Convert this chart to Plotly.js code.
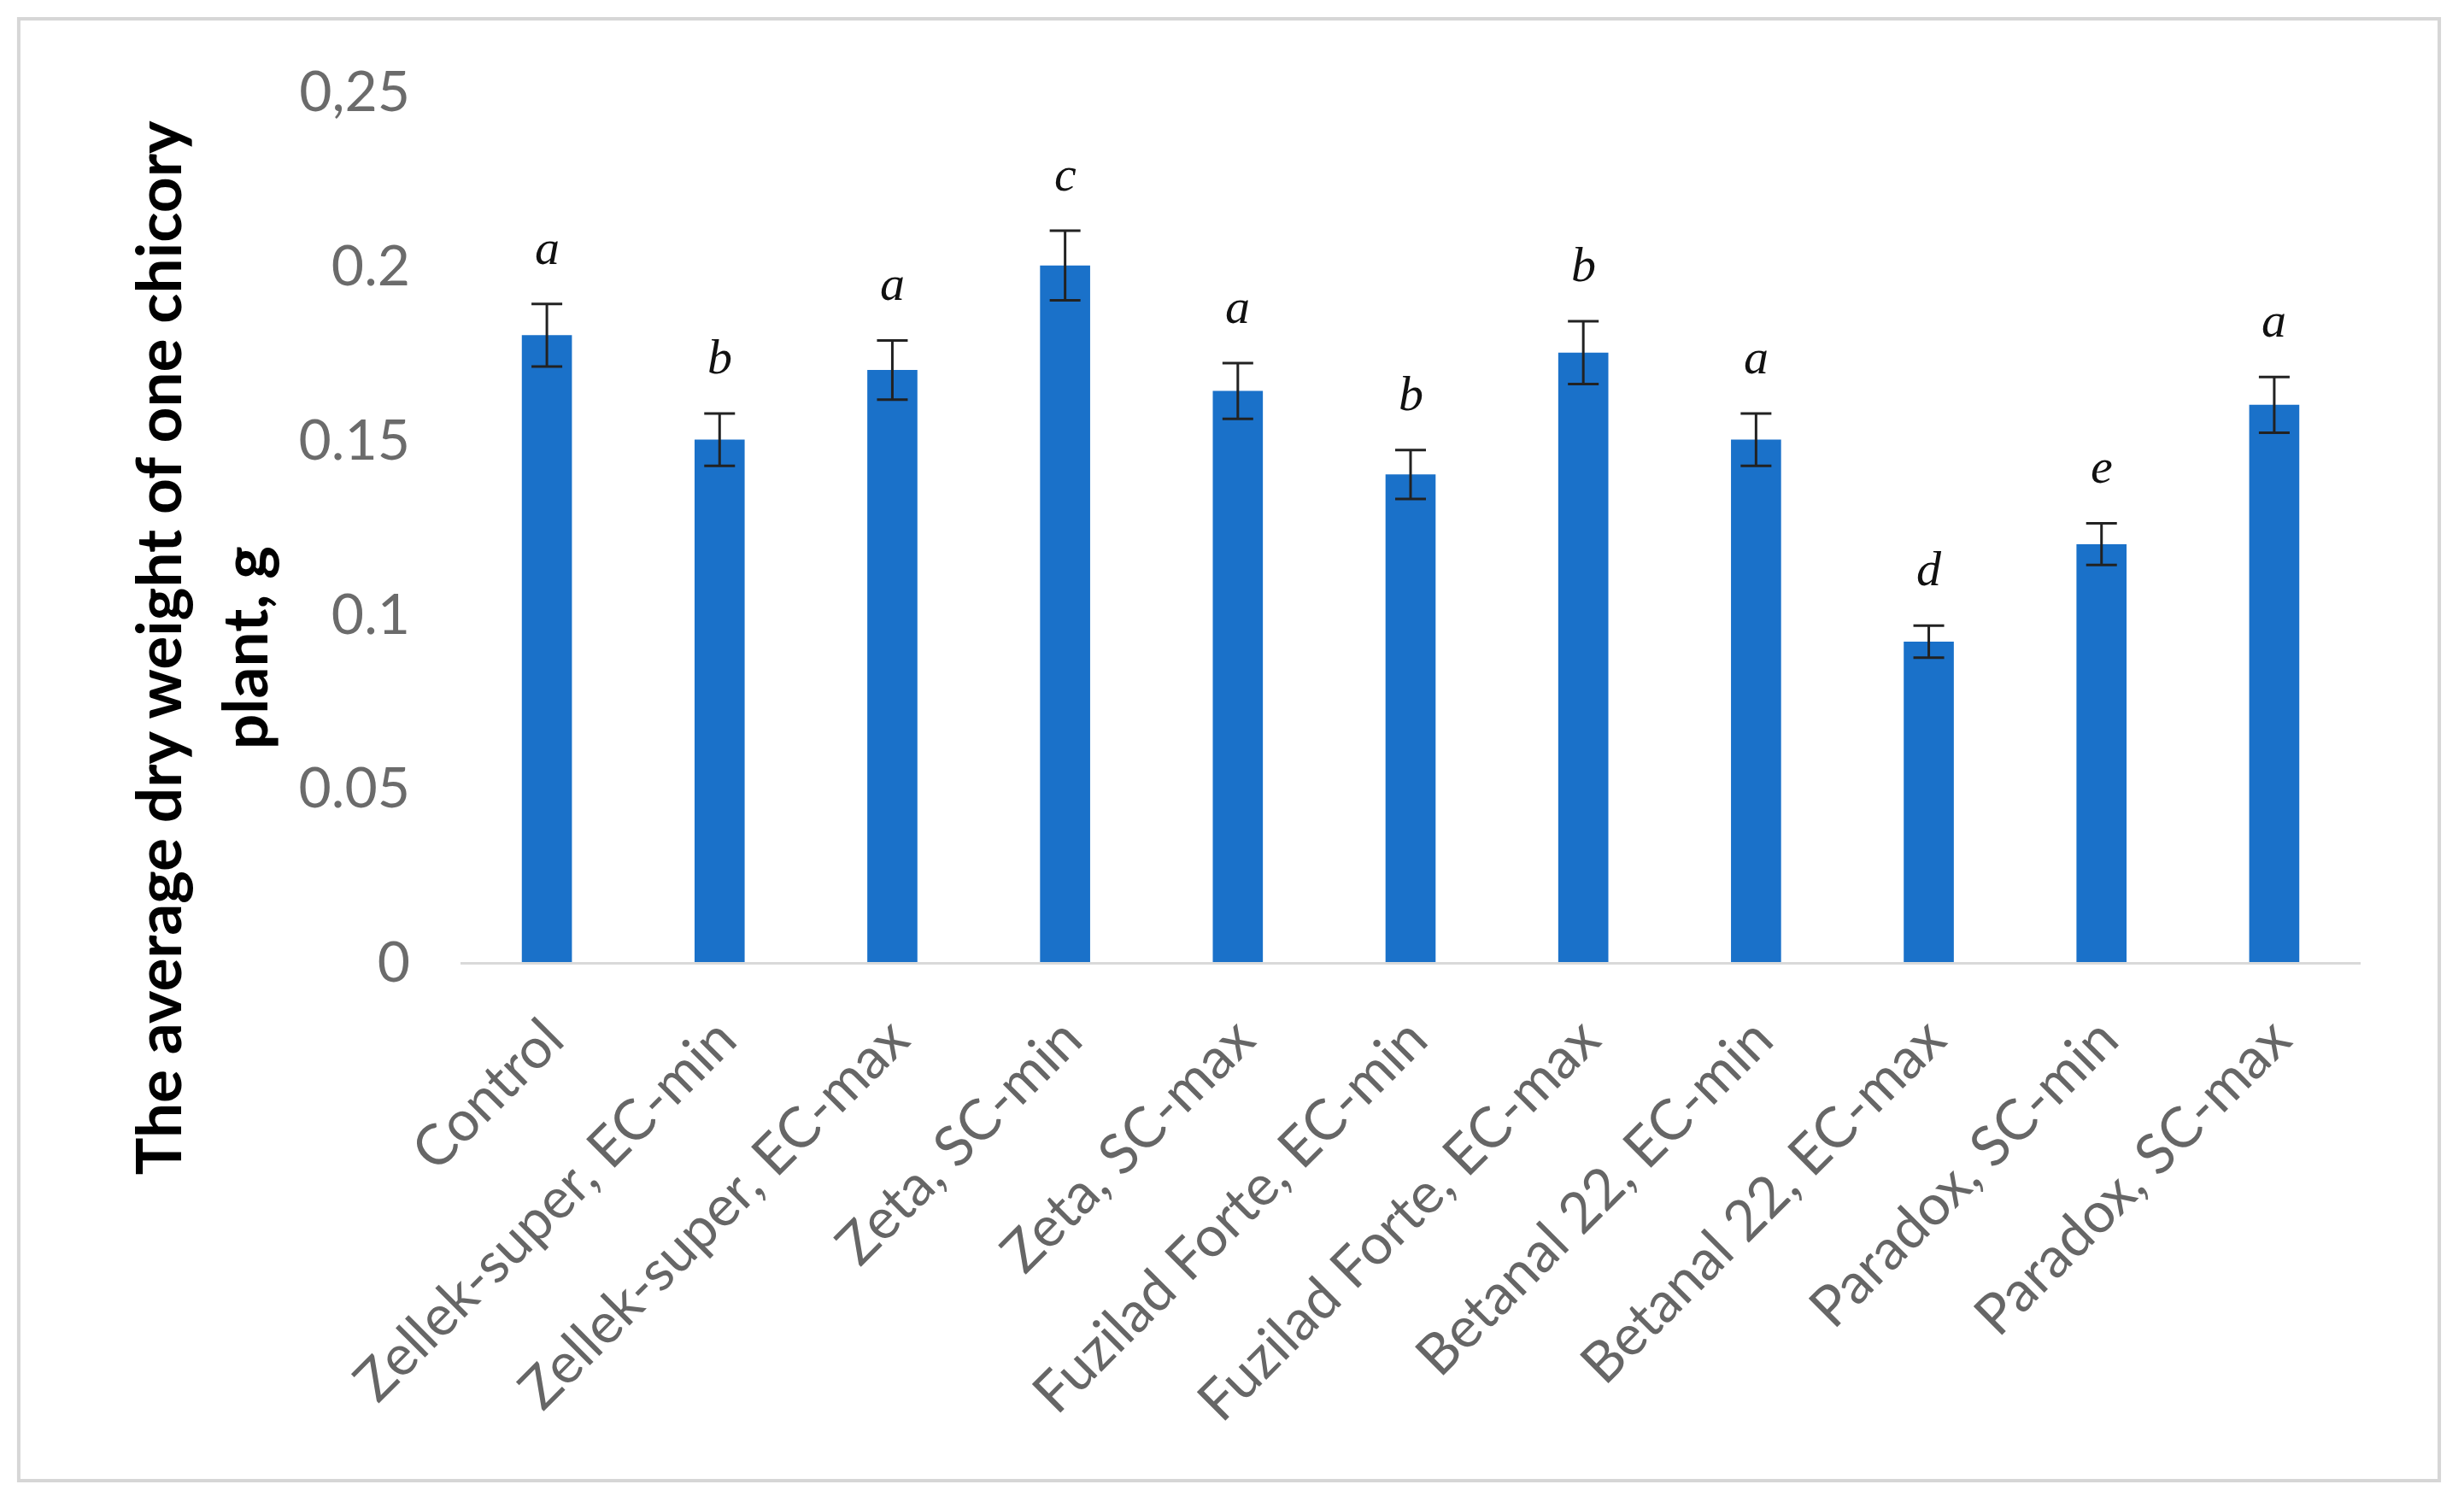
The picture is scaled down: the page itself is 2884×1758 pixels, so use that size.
<!DOCTYPE html>
<html>
<head>
<meta charset="utf-8">
<script src="https://cdn.plot.ly/plotly-3.0.1.min.js"></script>
<style>
html,body{margin:0;padding:0;background:#fff;}
#chart{width:2884px;height:1758px;}
</style>
</head>
<body>
<div id="chart"></div>
<script>
const categories = ["Control","Zellek-super, EC-min","Zellek-super, EC-max","Zeta, SC-min","Zeta, SC-max","Fuzilad Forte, EC-min","Fuzilad Forte, EC-max","Betanal 22, EC-min","Betanal 22, EC-max","Paradox, SC-min","Paradox, SC-max"];
const values = [0.18, 0.15, 0.17, 0.2, 0.164, 0.14, 0.175, 0.15, 0.092, 0.12, 0.16];
const errors = [0.009, 0.0075, 0.0085, 0.01, 0.008, 0.007, 0.009, 0.0075, 0.0046, 0.006, 0.008];
const letters = ["a","b","a","c","a","b","b","a","d","e","a"];
const yTickVals = [0, 0.05, 0.1, 0.15, 0.2, 0.25];
const yTickText = ["0", "0.05", "0.1", "0.15", "0.2", "0,25"];
const yTitleLines = ["The average dry weight of one chicory", "plant, g"];

const trace = {
  type: "bar",
  x: categories,
  y: values,
  marker: {color: "#1a71c9"},
  error_y: {type: "data", array: errors, visible: true, color: "#222222", thickness: 3, width: 18},
  hoverinfo: "x+y"
};

const letterAnns = categories.map((c, i) => ({
  x: c, y: values[i] + errors[i], xref: "x", yref: "y",
  text: letters[i], showarrow: false, yanchor: "bottom", yshift: 32,
  font: {family: "Liberation Serif, serif", size: 58, color: "#111111", style: "italic"}
}));

const titleAnns = [
  {text: "<b>" + yTitleLines[0] + "</b>", x: -0.1596, y: 0.361},
  {text: "<b>" + yTitleLines[1] + "</b>", x: -0.1142, y: 0.361}
].map(a => Object.assign(a, {
  xref: "paper", yref: "paper", showarrow: false, textangle: -90,
  xanchor: "center", yanchor: "middle",
  font: {family: "Lato, sans-serif", size: 73, color: "#000000"}
}));

const layout = {
  width: 2884, height: 1758,
  margin: {l: 539, r: 121, t: 107, b: 632},
  paper_bgcolor: "#ffffff", plot_bgcolor: "#ffffff",
  showlegend: false,
  bargap: 0.71,
  xaxis: {
    type: "category",
    tickangle: -45,
    showline: true, linecolor: "#d9d9d9", linewidth: 3,
    showgrid: false, zeroline: false, ticks: "",
    ticklabelstandoff: 22,
    tickfont: {family: "Lato, sans-serif", size: 66, color: "#666666"}
  },
  yaxis: {
    range: [0, 0.25],
    tickvals: yTickVals, ticktext: yTickText,
    showgrid: false, zeroline: false, showline: false, ticks: "",
    ticklabelstandoff: 58,
    tickfont: {family: "Lato, sans-serif", size: 66, color: "#6b6b6b"}
  },
  annotations: letterAnns.concat(titleAnns),
  shapes: [{
    type: "rect", xref: "paper", yref: "paper",
    x0: -0.2325, x1: 1.0414, y0: -0.5957, y1: 1.0834,
    line: {color: "#d6d6d6", width: 4}
  }]
};

Plotly.newPlot("chart", [trace], layout, {displayModeBar: false, staticPlot: true});
</script>
</body>
</html>
